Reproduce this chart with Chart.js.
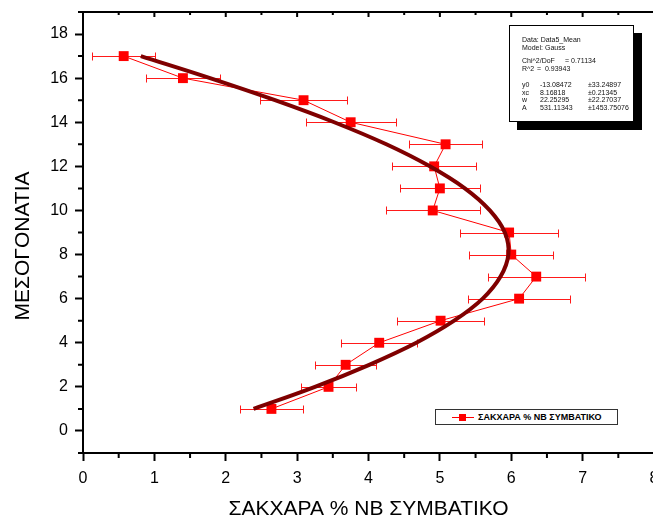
<!DOCTYPE html>
<html>
<head>
<meta charset="utf-8">
<script src="https://cdn.jsdelivr.net/npm/chart.js@4.4.0/dist/chart.umd.min.js"></script>
<style>
  html, body { margin: 0; padding: 0; overflow: hidden; background: #fff; }
  body { width: 653px; height: 521px; position: relative; font-family: "Liberation Sans", Arial, sans-serif; }
  #wrap { position: absolute; left: 0; top: 0; width: 700px; height: 521px; }
  #info {
    position: absolute; left: 509px; top: 25px; width: 123px; height: 95px;
    border: 1px solid #000; background: #fff; box-shadow: 8px 8px 0 #000;
    font-size: 7px; line-height: 7.5px; color: #111;
  }
  #info .row { position: relative; height: 7.5px; }
  #info .row span { position: absolute; top: 0; white-space: nowrap; }
  #legend {
    position: absolute; left: 435px; top: 409px; width: 181px; height: 14px;
    border: 1px solid #333; background: #fff;
    font-size: 9px; font-weight: bold; line-height: 14px; color: #000;
  }
  #legend .mark { position: absolute; left: 16px; top: 7px; width: 22px; height: 1px; background: #ff0000; }
  #legend .mark i { position: absolute; left: 7px; top: -3px; width: 7px; height: 7px; background: #ff0000; }
  #legend .txt { position: absolute; left: 42px; top: 0; white-space: nowrap; }
</style>
</head>
<body>
<div id="wrap"><canvas id="chart" width="700" height="521"></canvas></div>

<div id="info">
  <div style="height:10px"></div>
  <div class="row"><span style="left:12px">Data: Data5_Mean</span></div>
  <div class="row"><span style="left:12px">Model: Gauss</span></div>
  <div style="height:6px"></div>
  <div class="row"><span style="left:12px">Chi^2/DoF</span><span style="left:55px">= 0.71134</span></div>
  <div class="row"><span style="left:12px">R^2</span><span style="left:27px">=&nbsp; 0.93943</span></div>
  <div style="height:9px"></div>
  <div class="row"><span style="left:12px">y0</span><span style="left:30px">-13.08472</span><span style="left:78px">±33.24897</span></div>
  <div class="row"><span style="left:12px">xc</span><span style="left:30px">8.16818</span><span style="left:78px">±0.21345</span></div>
  <div class="row"><span style="left:12px">w</span><span style="left:30px">22.25295</span><span style="left:78px">±22.27037</span></div>
  <div class="row"><span style="left:12px">A</span><span style="left:30px">531.11343</span><span style="left:78px">±1453.75076</span></div>
</div>

<div id="legend"><div class="mark"><i></i></div><div class="txt">ΣΑΚΧΑΡΑ % ΝΒ ΣΥΜΒΑΤΙΚΟ</div></div>

<script>
const ctx = document.querySelector('#chart')

// measured points: level on the leg (y) and sugar % (x) with its error
const levels = [17, 16, 15, 14, 13, 12, 11, 10, 9, 8, 7, 6, 5, 4, 3, 2, 1]
const sugarMean = [0.57, 1.40, 3.09, 3.75, 5.08, 4.92, 5.00, 4.90, 5.97, 6.00, 6.35, 6.11, 5.01, 4.15, 3.68, 3.44, 2.64]
const sugarErr = [0.44, 0.52, 0.61, 0.63, 0.51, 0.59, 0.56, 0.66, 0.69, 0.59, 0.68, 0.71, 0.61, 0.53, 0.43, 0.38, 0.44]

// gauss fit curve
const fitLevels = [1, 2, 3, 4, 5, 6, 7, 8, 9, 10, 11, 12, 13, 14, 15, 16, 17]
const fitSugar = [2.39, 3.25, 4.01, 4.67, 5.20, 5.60, 5.85, 5.96, 5.91, 5.70, 5.35, 4.86, 4.25, 3.52, 2.69, 1.78, 0.81]

const xTicks = [0, 1, 2, 3, 4, 5, 6, 7, 8]
const xMinor = [0.5, 1.5, 2.5, 3.5, 4.5, 5.5, 6.5, 7.5]
const yTicks = [0, 2, 4, 6, 8, 10, 12, 14, 16, 18]
const yMinor = [-1, 1, 3, 5, 7, 9, 11, 13, 15, 17, 19]

const xTitle = 'ΣΑΚΧΑΡΑ % ΝΒ ΣΥΜΒΑΤΙΚΟ'
const yTitle = 'ΜΕΣΟΓΟΝΑΤΙΑ'
const fontName = '"Liberation Sans", Arial, sans-serif'

const errorBars = {
  id: 'errorBars',
  beforeDatasetsDraw(chart) {
    const c = chart.ctx
    const x = chart.scales.x, y = chart.scales.y
    c.save()
    c.strokeStyle = '#ff1a1a'
    c.lineWidth = 1
    c.beginPath()
    sugarMean.forEach((m, i) => {
      const py = Math.round(y.getPixelForValue(levels[i])) + 0.5
      const x1 = Math.round(x.getPixelForValue(m - sugarErr[i])) + 0.5
      const x2 = Math.round(x.getPixelForValue(m + sugarErr[i])) + 0.5
      c.moveTo(x1, py); c.lineTo(x2, py)
      c.moveTo(x1, py - 4); c.lineTo(x1, py + 4)
      c.moveTo(x2, py - 4); c.lineTo(x2, py + 4)
    })
    c.stroke()
    c.restore()
  }
}

const frame = {
  id: 'frame',
  afterDraw(chart) {
    const c = chart.ctx
    const a = chart.chartArea
    const x = chart.scales.x, y = chart.scales.y
    c.save()
    c.strokeStyle = '#000'
    c.lineWidth = 2
    c.beginPath()
    c.moveTo(a.left - 1, a.top); c.lineTo(a.right + 1, a.top)
    xMinor.forEach(v => {
      const px = x.getPixelForValue(v)
      c.moveTo(px, a.bottom); c.lineTo(px, a.bottom + 5)
      c.moveTo(px, a.top); c.lineTo(px, a.top + 3)
    })
    xTicks.forEach(v => {
      const px = x.getPixelForValue(v)
      c.moveTo(px, a.top); c.lineTo(px, a.top + 5)
    })
    yMinor.forEach(v => {
      const py = y.getPixelForValue(v)
      c.moveTo(a.left, py); c.lineTo(a.left - 5, py)
    })
    c.stroke()
    c.translate(23, 246)
    c.rotate(-Math.PI / 2)
    c.font = '21px ' + fontName
    c.textAlign = 'center'
    c.textBaseline = 'middle'
    c.fillStyle = '#000'
    c.fillText(yTitle, 0, 0)
    c.restore()
  }
}

var chart = new Chart(ctx, {
  type: 'scatter',
  data: {
    datasets: [{
      label: 'fit',
      data: fitLevels.map((l, i) => ({ x: fitSugar[i], y: l })),
      showLine: true,
      borderColor: '#7f0000',
      borderWidth: 4,
      pointRadius: 0,
      tension: 0.4,
      order: 0
    }, {
      label: xTitle,
      data: levels.map((l, i) => ({ x: sugarMean[i], y: l })),
      showLine: true,
      borderColor: '#ff0000',
      borderWidth: 1,
      pointStyle: 'rect',
      pointRadius: 7,
      pointBackgroundColor: '#ff0000',
      pointBorderWidth: 0,
      order: 1
    }]
  },
  options: {
    responsive: false,
    animation: false,
    layout: { padding: { top: 12, right: 46, left: 0, bottom: 0 } },
    plugins: { legend: { display: false }, tooltip: { enabled: false } },
    scales: {
      x: {
        type: 'linear', min: 0, max: 8,
        afterBuildTicks: s => { s.ticks = xTicks.map(v => ({ value: v })) },
        afterFit: s => { s.height = 68; s.paddingLeft = 0; s.paddingRight = 0 },
        grid: { drawOnChartArea: false, tickLength: 8, tickWidth: 2, tickColor: '#000' },
        border: { color: '#000', width: 2 },
        ticks: { color: '#000', padding: 8, font: { family: fontName, size: 16 } },
        title: { display: true, text: xTitle, color: '#000', padding: { top: 0, bottom: -1 }, font: { family: fontName, size: 21 } }
      },
      y: {
        type: 'linear', min: -1, max: 19,
        afterBuildTicks: s => { s.ticks = yTicks.map(v => ({ value: v })) },
        afterFit: s => { s.width = 83; s.paddingTop = 0; s.paddingBottom = 0 },
        grid: { drawOnChartArea: false, tickLength: 8, tickWidth: 2, tickColor: '#000' },
        border: { color: '#000', width: 2 },
        ticks: { color: '#000', padding: 7, font: { family: fontName, size: 16 } }
      }
    }
  },
  plugins: [errorBars, frame]
})
</script>
</body>
</html>
